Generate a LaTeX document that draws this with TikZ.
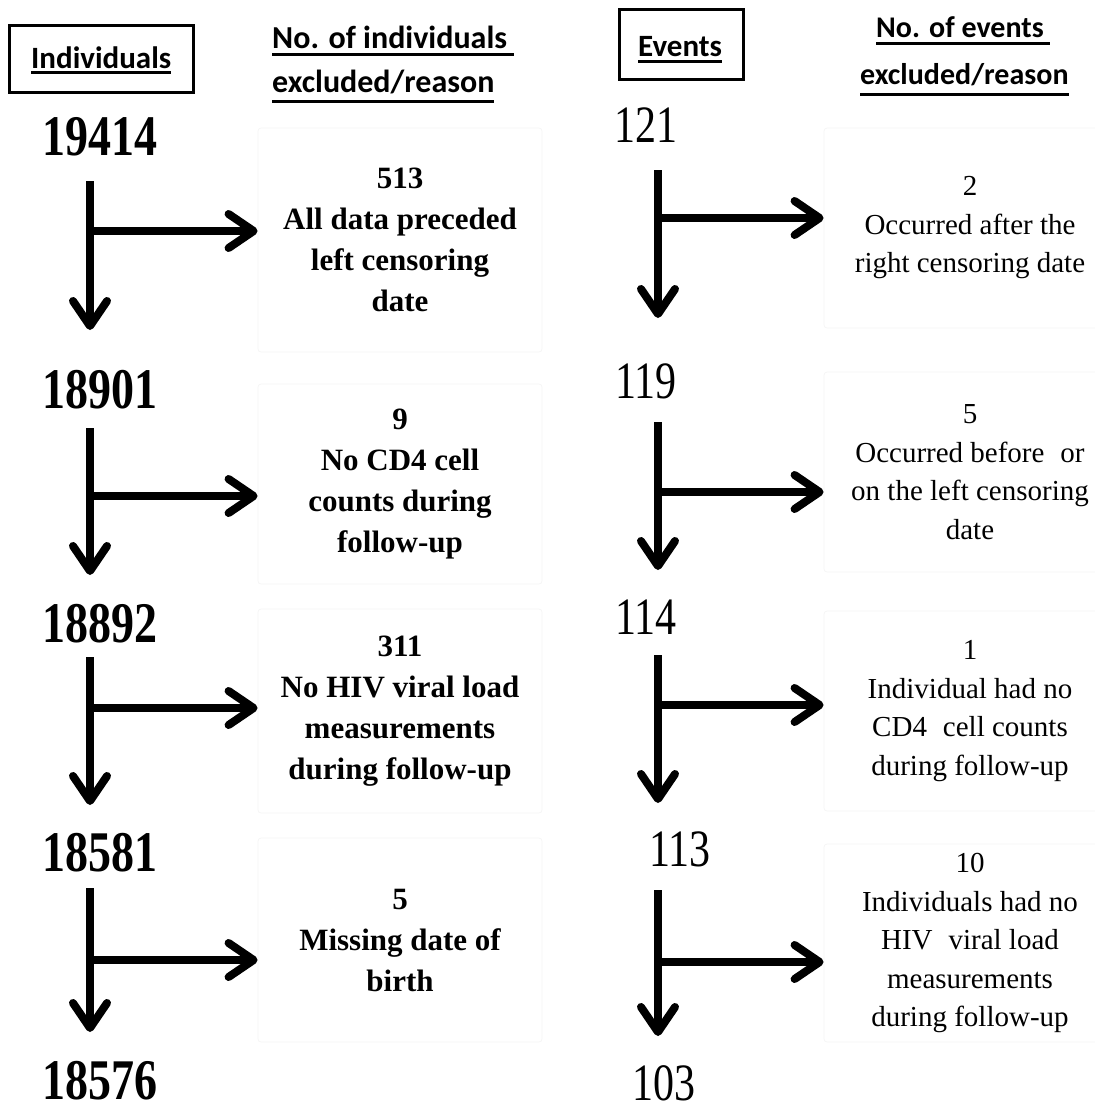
\documentclass[tikz,border=0pt]{standalone}
\usepackage{fontspec}
\usepackage{graphicx}
\setmainfont{Liberation Serif}
\newfontfamily\hdfont{Carlito}
\usetikzlibrary{arrows.meta}
\newcommand{\hul}[2]{\setbox0\hbox{#2}\rlap{\rule[#1]{\wd0}{2.6pt}}\box0}
\begin{document}
\begin{tikzpicture}[x=1pt,y=-1pt,
  bignum/.style={inner sep=0pt, font=\fontsize{46}{46}\selectfont\bfseries},
  evnum/.style={inner sep=0pt, font=\fontsize{42}{42}\selectfont},
  lreason/.style={draw=black!4, line width=0.8pt, rounded corners=3pt, minimum width=284pt,
    align=center, inner sep=0pt, font=\fontsize{31}{41}\selectfont\bfseries},
  rreason/.style={draw=black!4, line width=0.8pt, rounded corners=3pt, minimum width=292pt,
    align=center, inner sep=0pt, font=\fontsize{29}{38.5}\selectfont},
  hdl/.style={inner sep=0pt, anchor=base west, font=\hdfont\bfseries\fontsize{32}{32}\selectfont},
  hdr/.style={inner sep=0pt, anchor=base west, font=\hdfont\bfseries\fontsize{30}{30}\selectfont},
  hdbox/.style={draw, line width=3pt, inner sep=0pt},
  arr/.style={line width=8pt, -{Straight Barb[length=25pt,width=34pt,round]}}
]
\useasboundingbox (0,0) rectangle (1095,1112);

% headers
\node[hdbox, minimum width=184pt, minimum height=67pt] (bxI) at (101,59) {};
\node[hdl, font=\hdfont\bfseries\fontsize{31}{31}\selectfont] (hI) at (31,68) {\hul{-6pt}{Individuals}};
\node[hdl] (hL1) at (272,48) {\hul{-8pt}{No. of individuals }};
\node[hdl] (hL2) at (272,92) {\hul{-10.5pt}{excluded/reason}};
\node[hdbox, minimum width=124pt, minimum height=70pt] (bxE) at (681,44) {};
\node[hdr, font=\hdfont\bfseries\fontsize{31}{31}\selectfont] (hE) at (638,56) {\hul{-7pt}{Events}};
\node[hdr] (hR1) at (876,37) {\hul{-7.5pt}{No. of events }};
\node[hdr] (hR2) at (860,84) {\hul{-11.5pt}{excluded/reason}};

% individuals column
\node[bignum] (n1) at (100,137) {\scalebox{1}[1.25]{19414}};
\node[bignum] (n2) at (100,390) {\scalebox{1}[1.25]{18901}};
\node[bignum] (n3) at (100,624) {\scalebox{1}[1.25]{18892}};
\node[bignum] (n4) at (100,853) {\scalebox{1}[1.25]{18581}};
\node[bignum] (n5) at (100,1081) {\scalebox{1}[1.25]{18576}};

\node[lreason, minimum height=224pt] (x1) at (400,240) {513\\All data preceded\\left censoring\\date};
\node[lreason, minimum height=200pt] (x2) at (400,484) {9\\No CD4 cell\\counts during\\follow-up};
\node[lreason, minimum height=204pt] (x3) at (400,711) {311\\No HIV viral load\\measurements\\during follow-up};
\node[lreason, minimum height=204pt] (x4) at (400,940) {5\\Missing date of\\birth};

\coordinate (a1t) at (90,181);  \coordinate (a1e) at (90,330);  \coordinate (a1b) at (90,231);
\coordinate (a2t) at (90,428);  \coordinate (a2e) at (90,575);  \coordinate (a2b) at (90,496);
\coordinate (a3t) at (90,657);  \coordinate (a3e) at (90,805);  \coordinate (a3b) at (90,708);
\coordinate (a4t) at (90,888);  \coordinate (a4e) at (90,1032); \coordinate (a4b) at (90,960);

\draw[arr] (a1t) -- (a1e);  \draw[arr] (a1b) -- (a1b -| x1.west);
\draw[arr] (a2t) -- (a2e);  \draw[arr] (a2b) -- (a2b -| x2.west);
\draw[arr] (a3t) -- (a3e);  \draw[arr] (a3b) -- (a3b -| x3.west);
\draw[arr] (a4t) -- (a4e);  \draw[arr] (a4b) -- (a4b -| x4.west);

% events column
\node[evnum] (e1) at (646,125) {\scalebox{1}[1.25]{121}};
\node[evnum] (e2) at (646,381) {\scalebox{1}[1.25]{119}};
\node[evnum] (e3) at (646,617) {\scalebox{1}[1.25]{114}};
\node[evnum] (e4) at (680,849) {\scalebox{1}[1.25]{113}};
\node[evnum] (e5) at (664,1083) {\scalebox{1}[1.25]{103}};

\node[rreason, minimum height=200pt] (y1) at (970,228) {2\\Occurred after the\\right censoring date};
\node[rreason, minimum height=200pt] (y2) at (970,472) {5\\Occurred before\hspace{0.3em} or\\on the left censoring\\date};
\node[rreason, minimum height=200pt] (y3) at (970,711) {1\\Individual had no\\CD4\hspace{0.3em} cell counts\\during follow-up};
\node[rreason, minimum height=198pt] (y4) at (970,943) {10\\Individuals had no\\HIV\hspace{0.3em} viral load\\measurements\\during follow-up};

\coordinate (b1t) at (658,170);  \coordinate (b1e) at (658,318);  \coordinate (b1b) at (658,218);
\coordinate (b2t) at (658,422);  \coordinate (b2e) at (658,570);  \coordinate (b2b) at (658,492);
\coordinate (b3t) at (658,655);  \coordinate (b3e) at (658,803);  \coordinate (b3b) at (658,705);
\coordinate (b4t) at (658,890);  \coordinate (b4e) at (658,1036); \coordinate (b4b) at (658,962);

\draw[arr] (b1t) -- (b1e);  \draw[arr] (b1b) -- (b1b -| y1.west);
\draw[arr] (b2t) -- (b2e);  \draw[arr] (b2b) -- (b2b -| y2.west);
\draw[arr] (b3t) -- (b3e);  \draw[arr] (b3b) -- (b3b -| y3.west);
\draw[arr] (b4t) -- (b4e);  \draw[arr] (b4b) -- (b4b -| y4.west);
\end{tikzpicture}
\end{document}
